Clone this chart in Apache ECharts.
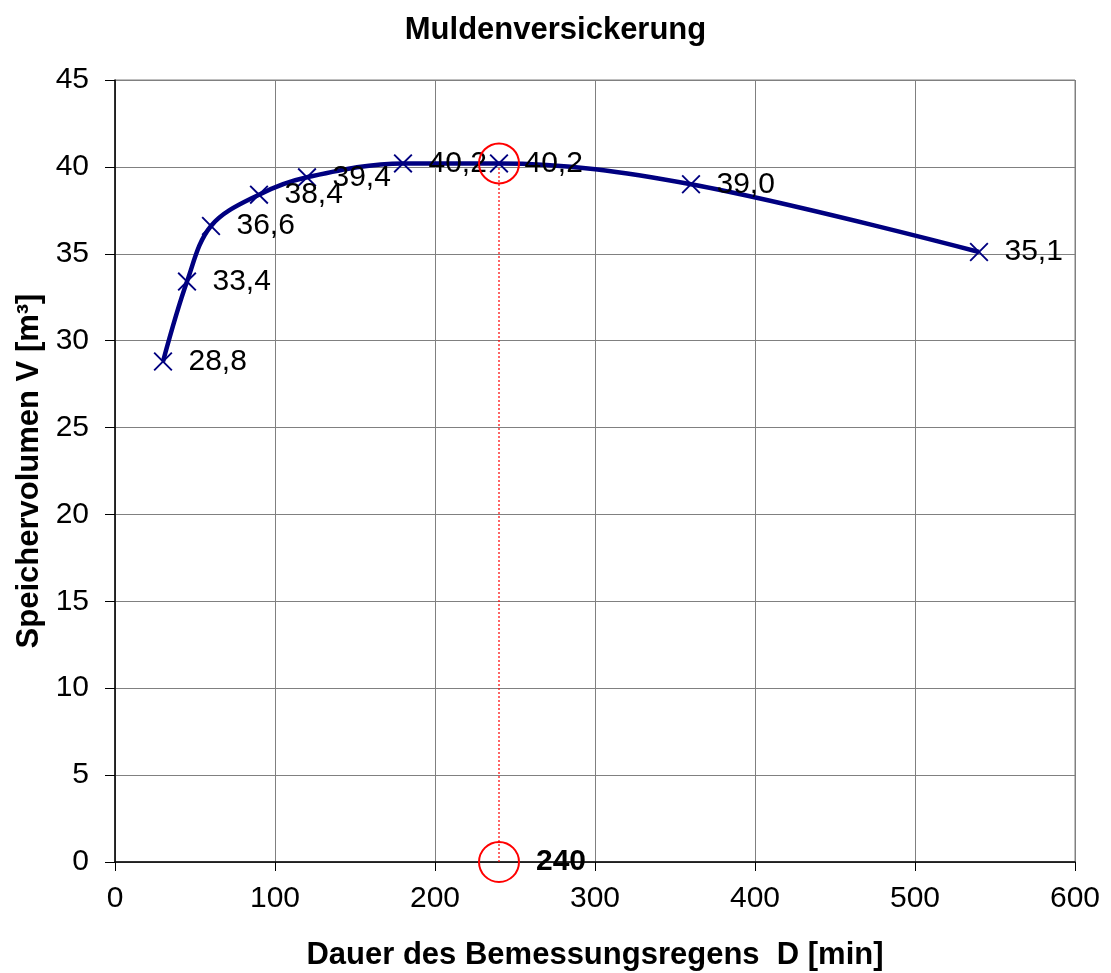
<!DOCTYPE html>
<html>
<head>
<meta charset="utf-8">
<script src="https://cdn.jsdelivr.net/npm/echarts@6/dist/echarts.min.js"></script>
<style>
html,body{margin:0;padding:0;background:#fff;}
#chart{width:1111px;height:973px;}
</style>
</head>
<body>
<div id="chart"></div>
<script>
const durations = [30, 45, 60, 90, 120, 180, 240, 360, 540];
const volumes = [28.8, 33.4, 36.6, 38.4, 39.4, 40.2, 40.2, 39.0, 35.1];
const optimumD = 240;
const optimumV = 40.2;
const xTicks = [0, 100, 200, 300, 400, 500, 600];
const yTicks = [0, 5, 10, 15, 20, 25, 30, 35, 40, 45];

const font = '"Liberation Sans", Arial, sans-serif';
const crossPath = 'path://M0,0.7L0.7,0L5,4.3L9.3,0L10,0.7L5.7,5L10,9.3L9.3,10L5,5.7L0.7,10L0,9.3L4.3,5Z';

const chart = echarts.init(document.getElementById('chart'));
chart.setOption({
  backgroundColor: '#fff',
  animation: false,
  title: {
    text: 'Muldenversickerung',
    left: 'center', top: 10,
    textStyle: {fontFamily: font, fontSize: 31, fontWeight: 'bold', color: '#000'}
  },
  grid: {left: 115, right: 36, top: 80, bottom: 111, show: true, borderColor: '#808080', borderWidth: 1,
         containLabel: false, outerBoundsMode: 'none'},
  xAxis: {
    type: 'value', min: xTicks[0], max: xTicks[xTicks.length - 1], interval: 100,
    name: 'Dauer des Bemessungsregens  D [min]',
    nameLocation: 'middle', nameGap: 78,
    nameTextStyle: {fontFamily: font, fontSize: 31, fontWeight: 'bold', color: '#000'},
    axisLine: {show: true, onZero: false, lineStyle: {color: '#000', width: 1.5}},
    axisTick: {show: true, inside: false, length: 9, lineStyle: {color: '#000'}},
    axisLabel: {fontFamily: font, fontSize: 30, color: '#000', margin: 22},
    splitLine: {show: true, lineStyle: {color: '#808080', width: 1}}
  },
  yAxis: {
    type: 'value', min: yTicks[0], max: yTicks[yTicks.length - 1], interval: 5,
    name: 'Speichervolumen V [m³]',
    nameLocation: 'middle', nameGap: 66, nameRotate: 90,
    nameTextStyle: {fontFamily: font, fontSize: 31, fontWeight: 'bold', color: '#000'},
    axisLine: {show: true, onZero: false, lineStyle: {color: '#000', width: 1.5}},
    axisTick: {show: true, inside: false, length: 10, lineStyle: {color: '#000'}},
    axisLabel: {fontFamily: font, fontSize: 30, color: '#000', margin: 26},
    splitLine: {show: true, lineStyle: {color: '#808080', width: 1}}
  },
  series: [
    {
      type: 'line',
      data: [[optimumD, 0], [optimumD, optimumV]],
      symbol: 'none',
      itemStyle: {color: '#ff0000'},
      lineStyle: {color: '#ff0000', width: 1.2, type: [2, 2]},
      z: 2
    },
    {
      type: 'line',
      data: durations.map((d, i) => [d, volumes[i]]),
      smooth: 0.35,
      symbol: crossPath,
      symbolSize: 19,
      itemStyle: {color: '#000080'},
      lineStyle: {color: '#000080', width: 4.5},
      label: {
        show: true, position: 'right', distance: 16,
        fontFamily: font, fontSize: 30, color: '#000',
        formatter: p => p.value[1].toFixed(1).replace('.', ',')
      },
      z: 3
    },
    {
      type: 'scatter',
      data: [[optimumD, optimumV], [optimumD, 0]],
      symbol: 'circle',
      symbolSize: 40,
      itemStyle: {color: 'rgba(255,255,255,0)', borderColor: '#ff0000', borderWidth: 2, opacity: 1},
      label: {
        show: true, position: 'right', distance: 16,
        fontFamily: font, fontSize: 30, fontWeight: 'bold', color: '#000',
        formatter: p => p.dataIndex === 1 ? String(optimumD) : ''
      },
      z: 4
    }
  ]
});
</script>
</body>
</html>
